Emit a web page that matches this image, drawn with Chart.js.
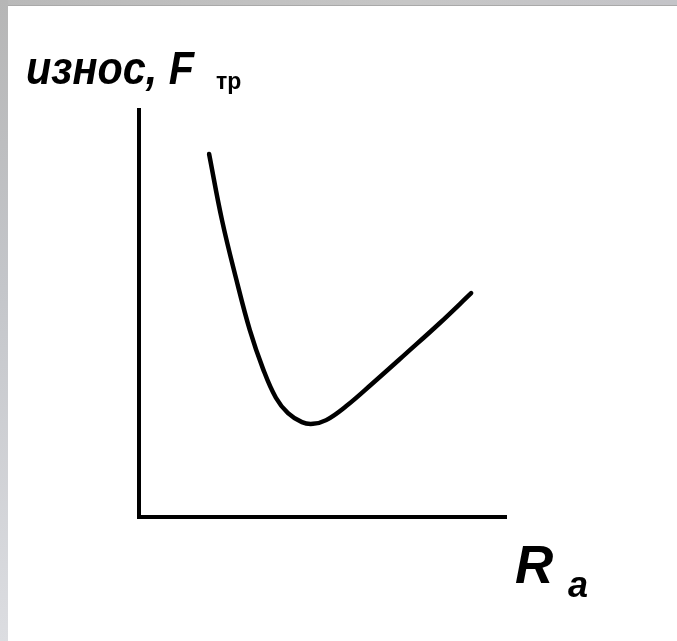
<!DOCTYPE html>
<html>
<head>
<meta charset="utf-8">
<script src="https://cdn.jsdelivr.net/npm/chart.js@4/dist/chart.umd.min.js"></script>
<style>
  html, body { margin: 0; padding: 0; background: #ffffff; }
  #wrap { position: relative; width: 677px; height: 641px; overflow: hidden; background: #ffffff; }
  #topband { position: absolute; left: 0; top: 0; width: 677px; height: 5px;
    background: linear-gradient(to right, #b9b9b9, #c6c6c6 60%, #c4c4c8); border-bottom: 1px solid #a9a9a9; }
  #leftband { position: absolute; left: 0; top: 0; width: 8px; height: 641px;
    background: linear-gradient(to bottom, #b6b6b6, #c4c6ca 45%, #dcdde1); }
  canvas { position: absolute; left: 0; top: 0; }
  .lbl { position: absolute; line-height: 1; font-family: "Liberation Sans", Arial, sans-serif; color: #000; white-space: nowrap; }
</style>
</head>
<body>
<div id="wrap">
  <div id="topband"></div>
  <div id="leftband"></div>
  <canvas id="c" width="677" height="641"></canvas>
  <div class="lbl" id="ylab" style="left:26px; top:45px; font-size:46px; font-weight:bold; font-style:italic; transform-origin:0 0; transform:scaleX(0.9);">износ, F</div>
  <div class="lbl" id="ysub" style="left:216px; top:70px; font-size:23px; font-weight:bold;">тр</div>
  <div class="lbl" id="xlab" style="left:515px; top:538px; font-size:53px; font-weight:bold; font-style:italic;">R</div>
  <div class="lbl" id="xsub" style="left:568px; top:567px; font-size:36px; font-weight:bold; font-style:italic;">a</div>
</div>
<script>
// Roughness Ra (arbitrary units) and wear / friction force (arbitrary units)
const raValues   = [19.1, 22.6, 26.4, 30.2, 33.8, 37.3, 40.6, 44.4, 47.4, 51.0, 56.4, 63.6, 72.8, 81.9, 90.5];
const wearValues = [89.2, 73.0, 58.8, 45.9, 36.4, 29.3, 25.5, 23.3, 22.9, 23.8, 27.2, 32.8, 40.2, 47.6, 55.0];
const axisRange = [0, 100];

const points = raValues.map((x, i) => ({ x: x, y: wearValues[i] }));

const axisCommon = {
  type: 'linear',
  min: axisRange[0],
  max: axisRange[1],
  ticks: { display: false },
  grid: { display: false, drawTicks: false, tickLength: 0 },
  border: { display: true, color: '#000000', width: 4 },
  title: { display: false }
};

new Chart(document.getElementById('c'), {
  type: 'line',
  data: {
    datasets: [{
      data: points,
      borderColor: '#000000',
      borderWidth: 4.5,
      pointRadius: 0,
      fill: false,
      tension: 0.4,
      borderCapStyle: 'round',
      borderJoinStyle: 'round'
    }]
  },
  options: {
    responsive: false,
    animation: false,
    devicePixelRatio: 1,
    layout: { padding: { left: 139, right: 171, top: 110, bottom: 124 } },
    plugins: { legend: { display: false }, tooltip: { enabled: false }, title: { display: false } },
    scales: {
      x: Object.assign({}, axisCommon, { position: 'bottom' }),
      y: Object.assign({}, axisCommon, { position: 'left' })
    }
  }
});
</script>
</body>
</html>
